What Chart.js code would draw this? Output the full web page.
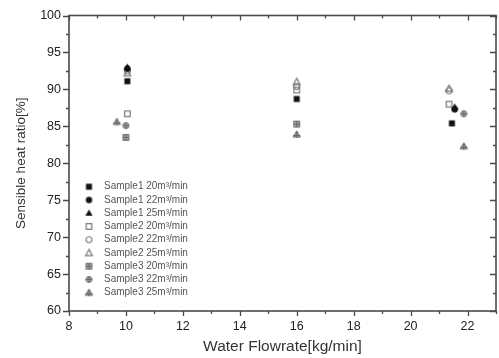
<!DOCTYPE html>
<html>
<head>
<meta charset="utf-8">
<script src="https://cdn.jsdelivr.net/npm/chart.js@4.4.0/dist/chart.umd.min.js"></script>
<style>
html,body{margin:0;padding:0;background:#fff;overflow:hidden;width:499px;height:358px;}
#wrap{position:absolute;left:0;top:0;width:501px;height:358px;}
</style>
</head>
<body>
<div id="wrap"><canvas id="c" width="501" height="358"></canvas></div>
<script>
// ---- data ----
const xTickLabels = [8, 10, 12, 14, 16, 18, 20, 22];
const yTickLabels = [60, 65, 70, 75, 80, 85, 90, 95, 100];
const seriesNames = [
  'Sample1 20m³/min','Sample1 22m³/min','Sample1 25m³/min',
  'Sample2 20m³/min','Sample2 22m³/min','Sample2 25m³/min',
  'Sample3 20m³/min','Sample3 22m³/min','Sample3 25m³/min'
];
const s1_20x = [10.05, 16, 21.45], s1_20y = [91.1, 88.7, 85.4];
const s1_22x = [10.05, 21.55],     s1_22y = [92.8, 87.3];
const s1_25x = [10.05, 21.55],     s1_25y = [93.0, 87.6];
const s2_20x = [10.05, 16, 21.35], s2_20y = [86.7, 89.9, 88.0];
const s2_22x = [10.05, 16, 21.35], s2_22y = [92.5, 90.4, 89.8];
const s2_25x = [10.05, 16, 21.35], s2_25y = [92.2, 91.0, 90.1];
const s3_20x = [10.0, 16],         s3_20y = [83.5, 85.3];
const s3_22x = [10.0, 21.87],      s3_22y = [85.1, 86.7];
const s3_25x = [9.68, 16, 21.87],  s3_25y = [85.6, 83.9, 82.3];

const seriesX = [s1_20x,s1_22x,s1_25x,s2_20x,s2_22x,s2_25x,s3_20x,s3_22x,s3_25x];
const seriesY = [s1_20y,s1_22y,s1_25y,s2_20y,s2_22y,s2_25y,s3_20y,s3_22y,s3_25y];

// ---- marker images ----
function mk(draw){
  const c=document.createElement('canvas'); c.width=11; c.height=11;
  const g=c.getContext('2d'); g.translate(5.5,5.5); draw(g); return c;
}
const BLK='#111', GRY='#777';
const markers=[
  mk(g=>{g.fillStyle=BLK;g.fillRect(-3,-3,6,6);}),
  mk(g=>{g.fillStyle=BLK;g.beginPath();g.arc(0,0,3.2,0,Math.PI*2);g.fill();}),
  mk(g=>{g.fillStyle=BLK;g.beginPath();g.moveTo(0,-3.8);g.lineTo(3.6,2.6);g.lineTo(-3.6,2.6);g.closePath();g.fill();}),
  mk(g=>{g.strokeStyle=GRY;g.lineWidth=1.2;g.strokeRect(-2.8,-2.8,5.6,5.6);}),
  mk(g=>{g.strokeStyle=GRY;g.lineWidth=1.2;g.beginPath();g.arc(0,0,3,0,Math.PI*2);g.stroke();}),
  mk(g=>{g.strokeStyle=GRY;g.lineWidth=1.2;g.beginPath();g.moveTo(0,-3.6);g.lineTo(3.4,2.6);g.lineTo(-3.4,2.6);g.closePath();g.stroke();}),
  mk(g=>{g.fillStyle='#aaa';g.fillRect(-3,-3,6,6);g.strokeStyle='#666';g.lineWidth=1;g.strokeRect(-2.8,-2.8,5.6,5.6);g.beginPath();g.moveTo(0,-3);g.lineTo(0,3);g.moveTo(-3,0);g.lineTo(3,0);g.stroke();}),
  mk(g=>{g.fillStyle='#aaa';g.beginPath();g.arc(0,0,3,0,Math.PI*2);g.fill();g.strokeStyle='#666';g.lineWidth=1;g.stroke();g.beginPath();g.moveTo(0,-3);g.lineTo(0,3);g.moveTo(-3,0);g.lineTo(3,0);g.stroke();}),
  mk(g=>{g.fillStyle='#aaa';g.beginPath();g.moveTo(0,-3.6);g.lineTo(3.6,2.6);g.lineTo(-3.6,2.6);g.closePath();g.fill();g.strokeStyle='#666';g.lineWidth=1;g.stroke();g.beginPath();g.moveTo(0,-3.6);g.lineTo(0,3.6);g.moveTo(-3.6,1);g.lineTo(3.6,1);g.stroke();})
];

const datasets = seriesNames.map((n,i)=>({
  label:n,
  data: seriesX[i].map((x,j)=>({x:x,y:seriesY[i][j]})),
  pointStyle: markers[i],
  pointRadius: 4,
  pointHoverRadius: 4,
  showLine:false
}));

const AX='#4a4a4a';
const framePlugin={
  id:'frame',
  afterDatasetsDraw(chart){
    const ctx=chart.ctx, xs=chart.scales.x, ys=chart.scales.y;
    const L=chart.chartArea.left, R=chart.chartArea.right, T=chart.chartArea.top, B=chart.chartArea.bottom;
    ctx.save();
    ctx.strokeStyle=AX; ctx.lineWidth=1.6;
    ctx.strokeRect(L,T,R-L,B-T);
    ctx.lineWidth=1.3;
    ctx.beginPath();
    xTickLabels.forEach(v=>{
      const p=Math.round(xs.getPixelForValue(v))+0.5;
      ctx.moveTo(p,B); ctx.lineTo(p,B+5);
      ctx.moveTo(p,T); ctx.lineTo(p,T+5);
      const m=xs.getPixelForValue(v+1);
      if(m<=R+1){const q=Math.round(m)+0.5; ctx.moveTo(q,B); ctx.lineTo(q,B+3); ctx.moveTo(q,T); ctx.lineTo(q,T+3);}
    });
    yTickLabels.forEach(v=>{
      const p=Math.round(ys.getPixelForValue(v))+0.5;
      ctx.moveTo(L,p); ctx.lineTo(L-6,p);
      ctx.moveTo(R,p); ctx.lineTo(R-6,p);
      if(v<100){const q=Math.round(ys.getPixelForValue(v+2.5))+0.5; ctx.moveTo(L,q); ctx.lineTo(L-3,q); ctx.moveTo(R,q); ctx.lineTo(R-3,q);}
    });
    ctx.stroke();
    // legend
    ctx.font='10px "Liberation Sans", Arial, sans-serif';
    ctx.fillStyle='#555'; ctx.textBaseline='middle'; ctx.textAlign='left';
    seriesNames.forEach((n,i)=>{
      const y=186.7+i*13.25;
      ctx.drawImage(markers[i],89-5.5,y-5.5);
      ctx.fillText(n,104,y);
    });
    ctx.restore();
  }
};

new Chart(document.getElementById('c'),{
  type:'scatter',
  data:{datasets},
  options:{
    responsive:false, animation:false, devicePixelRatio:1,
    layout:{padding:{top:15,right:0,left:0,bottom:0}},
    plugins:{legend:{display:false},tooltip:{enabled:false}},
    scales:{
      x:{type:'linear',min:8,max:23,
        afterFit(s){s.height=47;},
        afterBuildTicks(s){s.ticks=xTickLabels.map(v=>({value:v}));},
        grid:{display:false,drawTicks:false}, border:{display:false},
        ticks:{padding:8,color:'#222',font:{family:'"Liberation Sans", Arial, sans-serif',size:12.5},maxRotation:0,autoSkip:false},
        title:{display:true,text:'Water Flowrate[kg/min]',color:'#333',font:{family:'"Liberation Sans", Arial, sans-serif',size:15.5},padding:{top:0,bottom:2}}
      },
      y:{type:'linear',min:60,max:100,
        afterFit(s){s.width=69;},
        afterBuildTicks(s){s.ticks=yTickLabels.map(v=>({value:v}));},
        grid:{display:false,drawTicks:false}, border:{display:false},
        ticks:{padding:8,color:'#222',font:{family:'"Liberation Sans", Arial, sans-serif',size:12.5},autoSkip:false},
        title:{display:true,text:'Sensible heat ratio[%]',color:'#333',font:{family:'"Liberation Sans", Arial, sans-serif',size:13.5},padding:{top:13,bottom:0}}
      }
    }
  },
  plugins:[framePlugin]
});
</script>
</body>
</html>
